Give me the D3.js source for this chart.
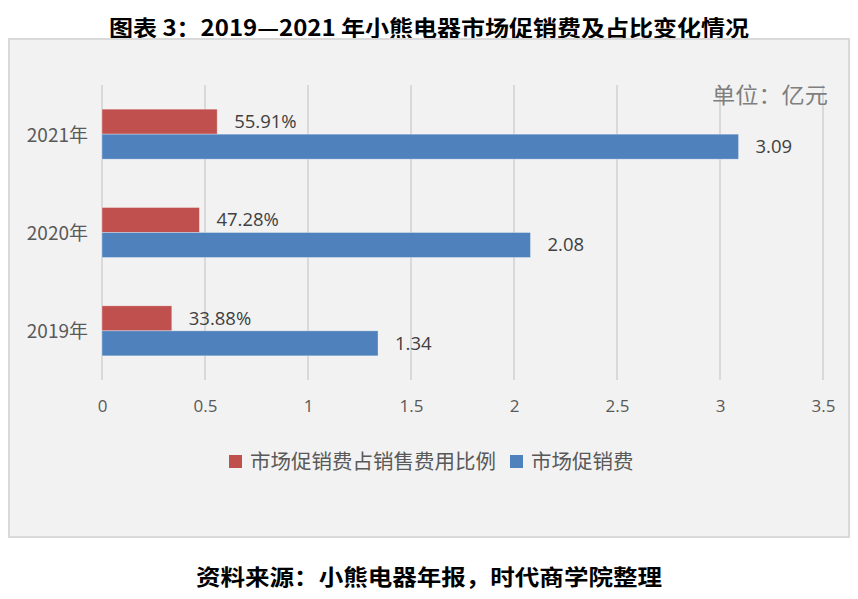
<!DOCTYPE html>
<html><head><meta charset="utf-8">
<script src="https://cdn.jsdelivr.net/npm/d3@7"></script>
<style>body{margin:0;background:#fff}svg{display:block}</style>
</head><body>
<script>
const categories = ["2021年", "2020年", "2019年"];
const ratioValues = [0.5591, 0.4728, 0.3388];
const ratioLabels = ["55.91%", "47.28%", "33.88%"];
const costValues = [3.09, 2.08, 1.34];
const costLabels = ["3.09", "2.08", "1.34"];
const xTicks = [0, 0.5, 1, 1.5, 2, 2.5, 3, 3.5];
const seriesNames = ["市场促销费占销售费用比例", "市场促销费"];
const colors = ["#c0504d", "#4f81bd"];
const titleText = "图表 3：2019—2021 年小熊电器市场促销费及占比变化情况";
const sourceText = "资料来源：小熊电器年报，时代商学院整理";
const unitText = "单位：亿元";

const W = 858, H = 599;
const svg = d3.select("body").append("svg").attr("width", W).attr("height", H);
const cjk = "'Noto Sans CJK SC','Noto Sans',sans-serif";
const num = "'Open Sans','Noto Sans',sans-serif";

svg.append("text").attr("x", 429).attr("y", 36).attr("text-anchor", "middle")
  .attr("font-family", cjk).attr("font-weight", "bold").attr("font-size", 22)
  .attr("textLength", 640).attr("lengthAdjust", "spacingAndGlyphs")
  .attr("fill", "#000").text(titleText);

svg.append("rect").attr("x", 9).attr("y", 39).attr("width", 840).attr("height", 498)
  .attr("fill", "#f2f2f2").attr("stroke", "#d9d9d9").attr("stroke-width", 2);

const x = d3.scaleLinear().domain([0, 3.5]).range([102, 823]);
const y = d3.scaleBand().domain(categories).range([85, 380]).paddingInner(0.4915).paddingOuter(0.4915 / 2);
const sub = d3.scaleBand().domain([0, 1]).range([0, y.bandwidth()]);

svg.append("g").selectAll("line").data(xTicks).join("line")
  .attr("x1", d => x(d)).attr("x2", d => x(d)).attr("y1", 85).attr("y2", 380)
  .attr("stroke", "#d9d9d9").attr("stroke-width", 2);

const xAxis = svg.append("g").attr("transform", "translate(0,380)")
  .call(d3.axisBottom(x).tickValues(xTicks).tickFormat(d => String(d)).tickSize(0).tickPadding(20));
xAxis.select(".domain").remove();
xAxis.selectAll("text").attr("font-family", num).attr("font-size", 17).attr("fill", "#595959");

const yAxis = svg.append("g").attr("transform", "translate(88,0)")
  .call(d3.axisLeft(y).tickSize(0).tickPadding(0));
yAxis.select(".domain").remove();
yAxis.selectAll("text").attr("font-family", cjk).attr("font-size", 19).attr("fill", "#595959").attr("dy", "0.4em");

const series = [
  {vals: ratioValues, labels: ratioLabels},
  {vals: costValues, labels: costLabels}
];
series.forEach((s, i) => {
  const g = svg.append("g");
  g.selectAll("rect").data(categories).join("rect")
    .attr("x", x(0)).attr("y", (c) => y(c) + sub(i))
    .attr("width", (c, j) => x(s.vals[j]) - x(0)).attr("height", sub.bandwidth())
    .attr("fill", colors[i]).attr("stroke", "#ffffff").attr("stroke-opacity", 0.4).attr("stroke-width", 0.8);
  g.selectAll("text").data(categories).join("text")
    .attr("x", (c, j) => x(s.vals[j]) + 17).attr("y", c => y(c) + sub(i) + sub.bandwidth() / 2)
    .attr("dy", "0.35em").attr("font-family", num).attr("font-size", 18.5).attr("fill", "#404040")
    .text((c, j) => s.labels[j]);
});

svg.append("text").attr("x", 828).attr("y", 103).attr("text-anchor", "end")
  .attr("font-family", cjk).attr("font-size", 22).attr("fill", "#7f7f7f")
  .attr("textLength", 116).attr("lengthAdjust", "spacingAndGlyphs").text(unitText);

const legendItems = [{x: 229}, {x: 510}];
legendItems.forEach((l, i) => {
  svg.append("rect").attr("x", l.x).attr("y", 455).attr("width", 13).attr("height", 13).attr("fill", colors[i]);
  svg.append("text").attr("x", l.x + 21).attr("y", 469).attr("font-family", cjk).attr("font-size", 20.5)
    .attr("fill", "#595959").text(seriesNames[i]);
});

svg.append("text").attr("x", 429).attr("y", 585).attr("text-anchor", "middle")
  .attr("font-family", cjk).attr("font-weight", "bold").attr("font-size", 22)
  .attr("textLength", 466).attr("lengthAdjust", "spacingAndGlyphs")
  .attr("fill", "#000").text(sourceText);
</script>
</body></html>
